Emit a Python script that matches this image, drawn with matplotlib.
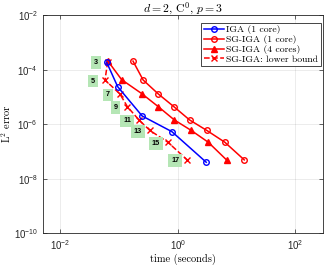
import matplotlib
matplotlib.use("Agg")
import matplotlib.pyplot as plt

plt.rcParams['font.family'] = ['Liberation Sans', 'DejaVu Sans']
plt.rcParams['mathtext.fontset'] = 'cm'

# refinement levels shown in the green boxes
levels = ['3', '5', '7', '9', '11', '13', '15', '17']

# IGA (1 core)
iga_t = [0.0613, 0.0943, 0.246, 0.791, 3.04]
iga_err = [1.85e-4, 2.37e-5, 2.0e-6, 5.3e-7, 4.0e-8]

# SG-IGA (1 core)
sg1_t = [0.172, 0.256, 0.464, 0.855, 1.58, 3.11, 6.3, 13.5]
sg1_err = [2.05e-4, 4.16e-5, 1.28e-5, 4.37e-6, 1.43e-6, 5.87e-7, 2.17e-7, 4.89e-8]

# SG-IGA (4 cores)
sg4_t = [0.065, 0.110, 0.241, 0.464, 0.869, 1.69, 3.29, 6.73]
sg4_err = [2.0e-4, 4.3e-5, 1.33e-5, 4.37e-6, 1.43e-6, 5.87e-7, 2.17e-7, 4.89e-8]

# SG-IGA: lower bound
lb_t = [0.0637, 0.0574, 0.103, 0.138, 0.217, 0.334, 0.676, 1.44]
lb_err = [1.95e-4, 4.16e-5, 1.28e-5, 4.37e-6, 1.43e-6, 5.87e-7, 2.17e-7, 4.89e-8]

fig = plt.figure(figsize=(3.24, 2.65), dpi=100)
ax = fig.add_axes([0.132, 0.12, 0.866, 0.823])

ax.plot(iga_t, iga_err, '-o', color='b', lw=1.1, ms=4, mfc='none', mew=1.0,
        label='IGA (1 core)', zorder=4)
ax.plot(sg1_t, sg1_err, '-o', color='r', lw=1.1, ms=4, mfc='none', mew=1.0,
        label='SG-IGA (1 core)', zorder=3)
ax.plot(sg4_t, sg4_err, '-^', color='r', lw=1.1, ms=4, mfc='r', mew=1.0,
        label='SG-IGA (4 cores)', zorder=3)
ax.plot(lb_t, lb_err, '--x', color='r', lw=1.1, ms=4, mew=1.0,
        label='SG-IGA: lower bound', zorder=3)

for lab, t, e in zip(levels, lb_t, lb_err):
    ax.text(t / 1.6, e * 0.92, lab, fontsize=5.2, fontweight='bold',
            ha='center', va='center', zorder=5,
            bbox=dict(boxstyle='square,pad=0.4', fc='#b5e6b5', ec='none'))

ax.set_xscale('log')
ax.set_yscale('log')
ax.set_xlim(0.005, 300)
ax.set_ylim(1e-10, 1e-2)
ax.set_xticks([1e-2, 1, 1e2])
ax.set_yticks([1e-10, 1e-8, 1e-6, 1e-4, 1e-2])
ax.minorticks_off()
ax.tick_params(direction='in', labelsize=7, length=3, width=0.5,
               colors='#262626', top=True, right=True)
ax.grid(True, color='#262626', alpha=0.12, lw=0.5)
for s in ax.spines.values():
    s.set_color('#262626')
    s.set_linewidth(0.6)

ax.set_title(r'$d = 2$, $\mathrm{C}^0$, $p = 3$', fontsize=8.5,
             fontfamily='cmr10', pad=2)
ax.set_xlabel('time (seconds)', fontsize=7.5, fontfamily='cmr10', labelpad=1)
ax.set_ylabel(r'L$^2$ error', fontsize=7.5, fontfamily='cmr10', labelpad=0.5)

leg = ax.legend(loc='upper right', bbox_to_anchor=(1.0, 0.975),
                prop={'family': 'cmr10', 'size': 7}, fancybox=False,
                edgecolor='#262626', framealpha=1, handlelength=2.0,
                labelspacing=0.08, borderpad=0.3, handletextpad=0.3,
                borderaxespad=0.2)
leg.get_frame().set_linewidth(0.6)

fig.savefig('out.png', dpi=100)
